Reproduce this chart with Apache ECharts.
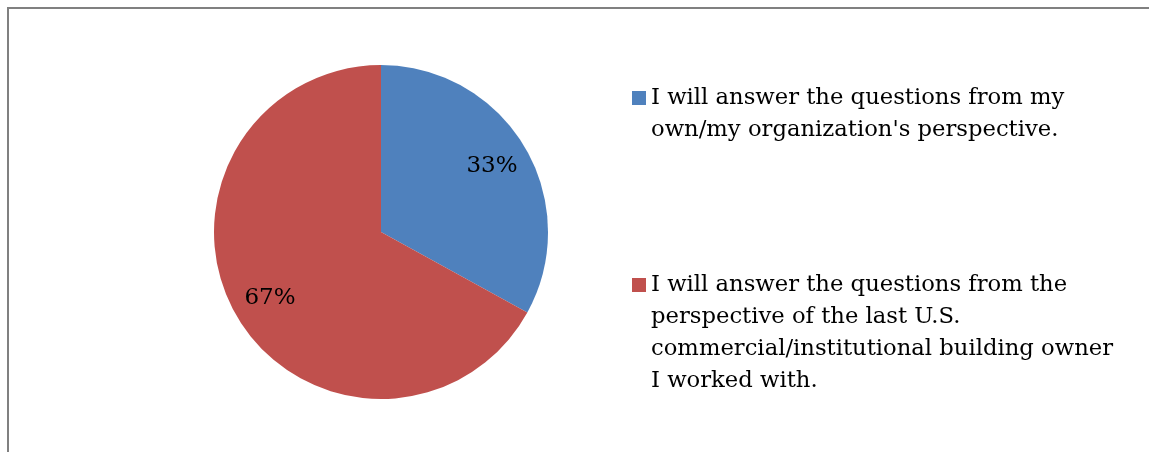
<!DOCTYPE html>
<html>
<head>
<meta charset="utf-8">
<script src="https://cdn.jsdelivr.net/npm/echarts@6/dist/echarts.min.js"></script>
<style>
  html, body { margin: 0; padding: 0; background: #ffffff; }
  #chart { width: 1149px; height: 452px; }
</style>
</head>
<body>
<div id="chart"></div>
<script>
// Survey answer perspective split
const categories = [
  "I will answer the questions from my own/my organization's perspective.",
  "I will answer the questions from the perspective of the last U.S. commercial/institutional building owner I worked with."
];
const shares = [33, 67];
const sliceColors = ['#4F81BD', '#C0504D'];
// Legend text broken into lines as laid out beside the pie
const legendLines = [
  ["I will answer the questions from my", "own/my organization's perspective."],
  ["I will answer the questions from the", "perspective of the last U.S.", "commercial/institutional building owner", "I worked with."]
];

const FONT = 'DejaVu Serif';
const LEGEND_SIZE = 22.7;
const LINE_H = 32;
const PIE_CENTER = [381, 232];
const PIE_R = 167;

const pieData = categories.map((name, i) => ({
  name: name,
  value: shares[i],
  itemStyle: { color: sliceColors[i] }
}));

// One legend block per category. The text is centred on the marker, so empty
// leading lines push the first real line level with the marker.
function legendFor(i, iconCenterY) {
  const n = legendLines[i].length;
  const lead = new Array(n - 1).fill('');
  return {
    show: true,
    orient: 'vertical',
    left: 632,
    top: iconCenterY - ((2 * n - 1) * LINE_H) / 2,
    padding: 0,
    itemWidth: 14,
    itemHeight: 14,
    icon: 'rect',
    selectedMode: false,
    data: [categories[i]],
    formatter: () => lead.concat(legendLines[i]).join('\n'),
    textStyle: {
      fontFamily: FONT,
      fontSize: LEGEND_SIZE,
      lineHeight: LINE_H,
      color: '#000000'
    }
  };
}

const chart = echarts.init(document.getElementById('chart'), null, { renderer: 'canvas' });
chart.setOption({
  backgroundColor: '#ffffff',
  animation: false,
  legend: [legendFor(0, 98), legendFor(1, 285)],
  graphic: [{
    type: 'rect',
    shape: { x: 8, y: 8, width: 1300, height: 600 },
    style: { fill: 'none', stroke: '#808080', lineWidth: 2 },
    silent: true
  }],
  series: [
    {
      type: 'pie',
      center: PIE_CENTER,
      radius: [0, PIE_R],
      startAngle: 90,
      clockwise: true,
      silent: true,
      label: { show: false },
      labelLine: { show: false },
      data: pieData
    },
    {
      // Transparent ring used only to place the percentage labels
      type: 'pie',
      center: PIE_CENTER,
      radius: [85, PIE_R],
      startAngle: 90,
      clockwise: true,
      silent: true,
      legendHoverLink: false,
      itemStyle: { color: 'rgba(0,0,0,0)' },
      label: {
        show: true,
        position: 'inside',
        formatter: '{c}%',
        fontFamily: FONT,
        fontSize: 23,
        color: '#000000'
      },
      labelLine: { show: false },
      data: categories.map((name, i) => ({ name: name, value: shares[i] }))
    }
  ]
});
</script>
</body>
</html>
